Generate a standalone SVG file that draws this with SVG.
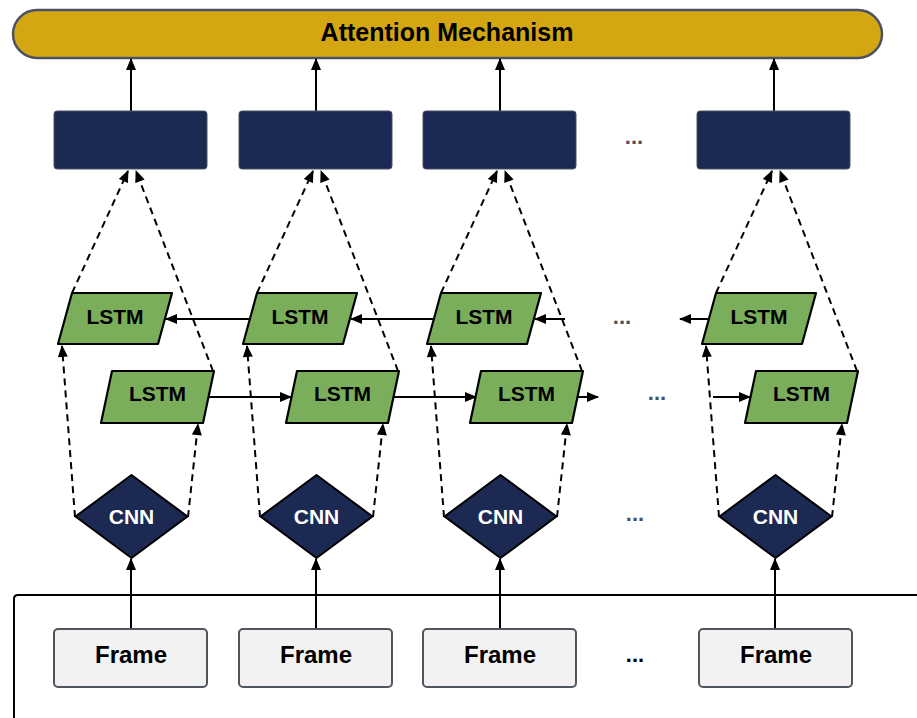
<svg xmlns="http://www.w3.org/2000/svg" width="917" height="718" viewBox="0 0 917 718">
<defs>
<style>
.att{fill:#D4A712;stroke:#4B5263;stroke-width:2.5}
.box{fill:#1C2952;stroke:#4B5263;stroke-width:1}
.lstm{fill:#7BAE5B;stroke:#000;stroke-width:2.2;stroke-linejoin:round}
.cnn{fill:#1C2952;stroke:#000;stroke-width:2;stroke-linejoin:round}
.frame{fill:#F2F2F2;stroke:#50565F;stroke-width:2}
.t{font-family:"Liberation Sans",Arial,sans-serif;font-weight:bold;text-anchor:middle}
.tl{font-size:21px;fill:#000}
.tc{font-size:21px;fill:#FFFFFF}
.tf{font-size:24px;fill:#000}
.dots{font-family:"Liberation Sans",Arial,sans-serif;font-weight:bold;font-size:22px;text-anchor:middle;fill:#4A5162}
.solid{fill:none;stroke:#000;stroke-width:2;marker-end:url(#ah)}
.dash{fill:none;stroke:#000;stroke-width:2;stroke-dasharray:7 5;marker-end:url(#ah)}
.bracket{fill:none;stroke:#000;stroke-width:2}
</style>
<marker id="ah" viewBox="0 0 12 10" refX="11" refY="5" markerWidth="13" markerHeight="10" markerUnits="userSpaceOnUse" orient="auto">
<path d="M0,0 L12,5 L0,10 z" fill="#000"/>
</marker>
</defs>

<path class="bracket" d="M14,718 V599 Q14,595 18,595 H917"/>

<g id="attention">
<rect class="att" x="13" y="10" width="869" height="48" rx="24"/>
<text class="t" x="447" y="41" font-size="25">Attention Mechanism</text>
</g>

<g id="connectors">
<path class="solid" d="M131,111 V59"/>
<path class="solid" d="M316,111 V59"/>
<path class="solid" d="M500,111 V59"/>
<path class="solid" d="M774,111 V59"/>
<path class="solid" d="M131,629 V559"/>
<path class="solid" d="M316,629 V559"/>
<path class="solid" d="M500,629 V559"/>
<path class="solid" d="M775,629 V559"/>
<path class="dash" d="M75,517 L62,346"/>
<path class="dash" d="M188,517 L198,424"/>
<path class="dash" d="M72,293 L128,171"/>
<path class="dash" d="M213,371 L136,171"/>
<path class="dash" d="M260,517 L247,346"/>
<path class="dash" d="M373,517 L383,424"/>
<path class="dash" d="M257,293 L313,171"/>
<path class="dash" d="M398,371 L321,171"/>
<path class="dash" d="M444,517 L431,346"/>
<path class="dash" d="M557,517 L567,424"/>
<path class="dash" d="M441,293 L497,171"/>
<path class="dash" d="M582,371 L505,171"/>
<path class="dash" d="M719,517 L706,346"/>
<path class="dash" d="M832,517 L842,424"/>
<path class="dash" d="M716,293 L772,171"/>
<path class="dash" d="M857,371 L780,171"/>
<path class="solid" d="M250,319 H166"/>
<path class="solid" d="M434,319 H351"/>
<path class="solid" d="M565,319 H535"/>
<path class="solid" d="M709,319 H680"/>
<path class="solid" d="M209,397 H291"/>
<path class="solid" d="M394,397 H476"/>
<path class="solid" d="M578,397 H598"/>
<path class="solid" d="M713,397 H750"/>
</g>

<g id="out1"><rect class="box" x="54" y="111" width="153" height="58" rx="3"/></g>
<g id="out2"><rect class="box" x="239" y="111" width="153" height="58" rx="3"/></g>
<g id="out3"><rect class="box" x="423" y="111" width="153" height="58" rx="3"/></g>
<g id="out4"><rect class="box" x="697" y="111" width="153" height="58" rx="3"/></g>

<g id="lstmB1"><path class="lstm" d="M72,293 H172 L158,344 H58 Z"/><text class="t tl" x="115" y="324">LSTM</text></g>
<g id="lstmB2"><path class="lstm" d="M257,293 H357 L343,344 H243 Z"/><text class="t tl" x="300" y="324">LSTM</text></g>
<g id="lstmB3"><path class="lstm" d="M441,293 H541 L527,344 H427 Z"/><text class="t tl" x="484" y="324">LSTM</text></g>
<g id="lstmB4"><path class="lstm" d="M716,293 H816 L802,344 H702 Z"/><text class="t tl" x="759" y="324">LSTM</text></g>

<g id="lstmF1"><path class="lstm" d="M112,371 H214 L203,423 H101 Z"/><text class="t tl" x="157.5" y="401">LSTM</text></g>
<g id="lstmF2"><path class="lstm" d="M297,371 H399 L388,423 H286 Z"/><text class="t tl" x="342.5" y="401">LSTM</text></g>
<g id="lstmF3"><path class="lstm" d="M481,371 H583 L572,423 H470 Z"/><text class="t tl" x="526.5" y="401">LSTM</text></g>
<g id="lstmF4"><path class="lstm" d="M756,371 H858 L847,423 H745 Z"/><text class="t tl" x="801.5" y="401">LSTM</text></g>

<g id="cnn1"><path class="cnn" d="M131.5,475 L187.5,516.5 L131.5,558 L75.5,516.5 Z"/><text class="t tc" x="131.5" y="523.5">CNN</text></g>
<g id="cnn2"><path class="cnn" d="M316.5,475 L372.5,516.5 L316.5,558 L260.5,516.5 Z"/><text class="t tc" x="316.5" y="523.5">CNN</text></g>
<g id="cnn3"><path class="cnn" d="M500.5,475 L556.5,516.5 L500.5,558 L444.5,516.5 Z"/><text class="t tc" x="500.5" y="523.5">CNN</text></g>
<g id="cnn4"><path class="cnn" d="M775.5,475 L831.5,516.5 L775.5,558 L719.5,516.5 Z"/><text class="t tc" x="775.5" y="523.5">CNN</text></g>

<g id="frame1"><rect class="frame" x="54" y="629" width="153" height="58" rx="4"/><text class="t tf" x="131" y="663">Frame</text></g>
<g id="frame2"><rect class="frame" x="239" y="629" width="153" height="58" rx="4"/><text class="t tf" x="316" y="663">Frame</text></g>
<g id="frame3"><rect class="frame" x="423" y="629" width="153" height="58" rx="4"/><text class="t tf" x="500" y="663">Frame</text></g>
<g id="frame4"><rect class="frame" x="699" y="629" width="153" height="58" rx="4"/><text class="t tf" x="776" y="663">Frame</text></g>

<g id="ellipses">
<text class="dots" x="634" y="144">...</text>
<text class="dots" x="622" y="324">...</text>
<text class="dots" x="657" y="400">...</text>
<text class="dots" x="635" y="521">...</text>
<text class="dots" x="635" y="662" style="fill:#000">...</text>
</g>
</svg>
